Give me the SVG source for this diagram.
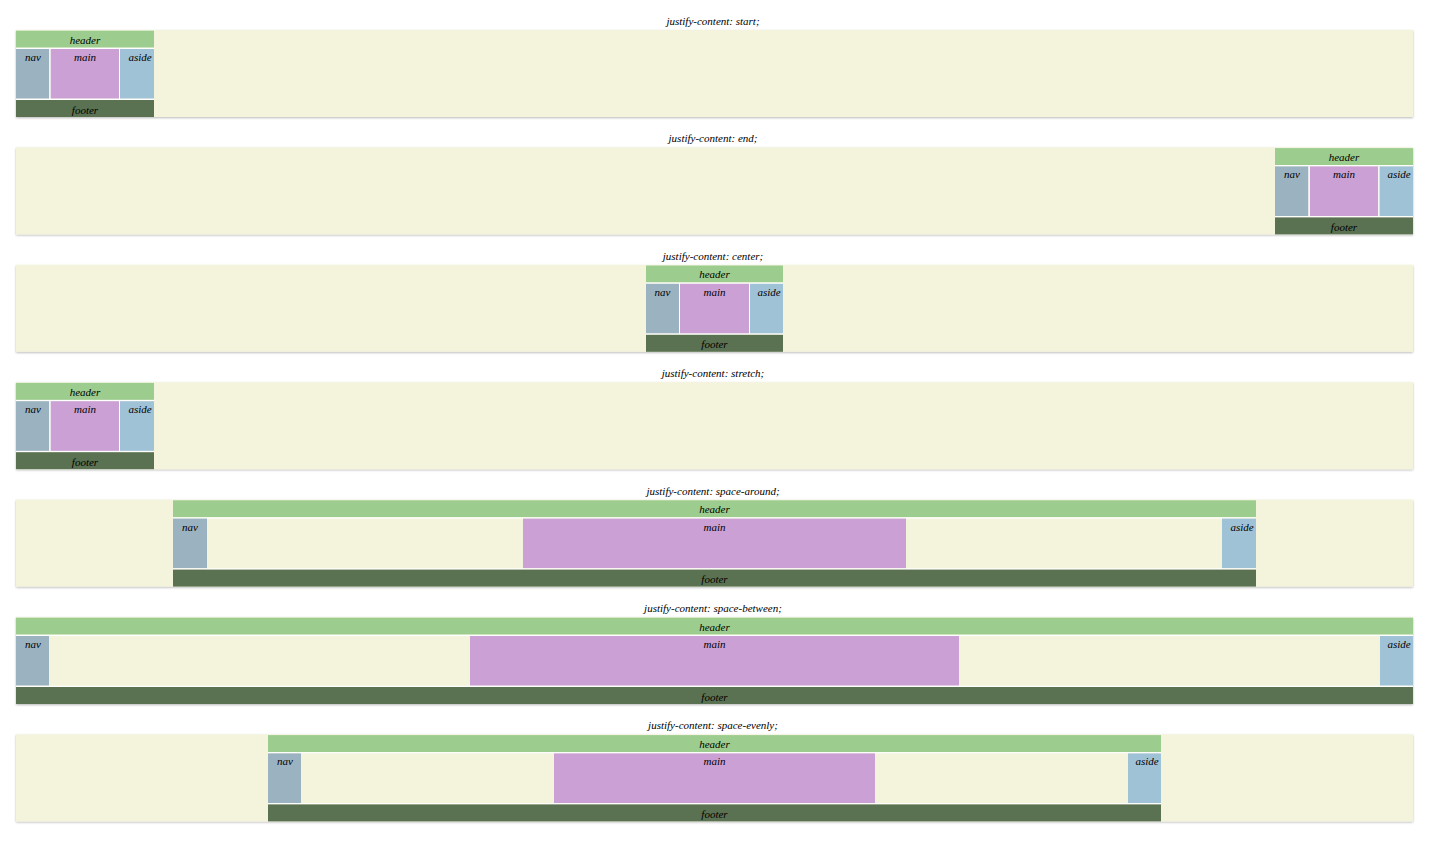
<svg xmlns="http://www.w3.org/2000/svg" width="1431" height="844" viewBox="0 0 1431 844">
<style>
text{font-family:"Liberation Serif","DejaVu Serif",serif;font-style:italic;font-size:11px;fill:#000;text-anchor:middle}
.t{font-size:11px}
.box{fill:#f4f4dc}
.hd{fill:#9ccc8e}
.nv{fill:#9bb2c0}
.mn{fill:#cba0d4}
.as{fill:#a0c2d6}
.ft{fill:#5a7252}
.gap{fill:#ffffff}
</style>
<defs>
<filter id="sh" x="-2%" y="-10%" width="104%" height="125%">
<feDropShadow dx="0" dy="1" stdDeviation="1.2" flood-color="#000" flood-opacity="0.28"/>
</filter>
</defs>
<rect width="1431" height="844" fill="#fff"/>

<!-- 1 start -->
<g id="sec-start">
<text class="t" x="713" y="25">justify-content: start;</text>
<rect class="box" x="16" y="30" width="1397" height="87" filter="url(#sh)"/>
<g id="start-header"><rect class="hd" x="16" y="30.7" width="138" height="17"/><text x="85" y="43.5">header</text></g>
<rect class="gap" x="16" y="47.7" width="138" height="1.3"/>
<g id="start-nav"><rect class="nv" x="16" y="49" width="33.3" height="49.7"/><text x="33" y="61">nav</text></g>
<rect class="gap" x="49.3" y="49" width="1.4" height="49.7"/>
<g id="start-main"><rect class="mn" x="50.7" y="49" width="68.3" height="49.7"/><text x="85" y="61">main</text></g>
<rect class="gap" x="119" y="49" width="1" height="49.7"/>
<g id="start-aside"><rect class="as" x="120" y="49" width="34" height="49.7"/><text x="140" y="61">aside</text></g>
<rect class="gap" x="16" y="98.7" width="138" height="1.3"/>
<g id="start-footer"><rect class="ft" x="16" y="100" width="138" height="17"/><text x="85" y="113.5">footer</text></g>
</g>

<!-- 2 end -->
<g id="sec-end" transform="translate(0,117.4)">
<text class="t" x="713" y="25">justify-content: end;</text>
<rect class="box" x="16" y="30" width="1397" height="87" filter="url(#sh)"/>
<g id="end-header"><rect class="hd" x="1275" y="30.7" width="138" height="17"/><text x="1344" y="43.5">header</text></g>
<rect class="gap" x="1275" y="47.7" width="138" height="1.3"/>
<g id="end-nav"><rect class="nv" x="1275" y="49" width="33.5" height="49.7"/><text x="1292" y="61">nav</text></g>
<rect class="gap" x="1308.5" y="49" width="1.4" height="49.7"/>
<g id="end-main"><rect class="mn" x="1309.9" y="49" width="68.4" height="49.7"/><text x="1344" y="61">main</text></g>
<rect class="gap" x="1378.3" y="49" width="1.3" height="49.7"/>
<g id="end-aside"><rect class="as" x="1379.6" y="49" width="33.4" height="49.7"/><text x="1399" y="61">aside</text></g>
<rect class="gap" x="1275" y="98.7" width="138" height="1.3"/>
<g id="end-footer"><rect class="ft" x="1275" y="100" width="138" height="17"/><text x="1344" y="113.5">footer</text></g>
</g>

<!-- 3 center -->
<g id="sec-center" transform="translate(0,234.8)">
<text class="t" x="713" y="25">justify-content: center;</text>
<rect class="box" x="16" y="30" width="1397" height="87" filter="url(#sh)"/>
<g id="center-header"><rect class="hd" x="646" y="30.7" width="137" height="17"/><text x="714.5" y="43.5">header</text></g>
<rect class="gap" x="646" y="47.7" width="137" height="1.3"/>
<g id="center-nav"><rect class="nv" x="646" y="49" width="33" height="49.7"/><text x="662.5" y="61">nav</text></g>
<rect class="gap" x="679" y="49" width="1" height="49.7"/>
<g id="center-main"><rect class="mn" x="680" y="49" width="69" height="49.7"/><text x="714.5" y="61">main</text></g>
<rect class="gap" x="749" y="49" width="1" height="49.7"/>
<g id="center-aside"><rect class="as" x="750" y="49" width="33" height="49.7"/><text x="769" y="61">aside</text></g>
<rect class="gap" x="646" y="98.7" width="137" height="1.3"/>
<g id="center-footer"><rect class="ft" x="646" y="100" width="137" height="17"/><text x="714.5" y="113.5">footer</text></g>
</g>

<!-- 4 stretch -->
<g id="sec-stretch" transform="translate(0,352.2)">
<text class="t" x="713" y="25">justify-content: stretch;</text>
<rect class="box" x="16" y="30" width="1397" height="87" filter="url(#sh)"/>
<g id="stretch-header"><rect class="hd" x="16" y="30.7" width="138" height="17"/><text x="85" y="43.5">header</text></g>
<rect class="gap" x="16" y="47.7" width="138" height="1.3"/>
<g id="stretch-nav"><rect class="nv" x="16" y="49" width="33.3" height="49.7"/><text x="33" y="61">nav</text></g>
<rect class="gap" x="49.3" y="49" width="1.4" height="49.7"/>
<g id="stretch-main"><rect class="mn" x="50.7" y="49" width="68.3" height="49.7"/><text x="85" y="61">main</text></g>
<rect class="gap" x="119" y="49" width="1" height="49.7"/>
<g id="stretch-aside"><rect class="as" x="120" y="49" width="34" height="49.7"/><text x="140" y="61">aside</text></g>
<rect class="gap" x="16" y="98.7" width="138" height="1.3"/>
<g id="stretch-footer"><rect class="ft" x="16" y="100" width="138" height="17"/><text x="85" y="113.5">footer</text></g>
</g>

<!-- 5 space-around -->
<g id="sec-around" transform="translate(0,469.6)">
<text class="t" x="713" y="25">justify-content: space-around;</text>
<rect class="box" x="16" y="30" width="1397" height="87" filter="url(#sh)"/>
<g id="around-header"><rect class="hd" x="173" y="30.7" width="1083" height="17"/><text x="714.5" y="43.5">header</text></g>
<rect class="gap" x="173" y="47.7" width="1083" height="1.3"/>
<g id="around-nav"><rect class="nv" x="173" y="49" width="34" height="49.7"/><text x="190" y="61">nav</text></g>
<g id="around-main"><rect class="mn" x="523" y="49" width="383" height="49.7"/><text x="714.5" y="61">main</text></g>
<g id="around-aside"><rect class="as" x="1222" y="49" width="34" height="49.7"/><text x="1242" y="61">aside</text></g>
<rect class="gap" x="173" y="98.7" width="1083" height="1.3"/>
<g id="around-footer"><rect class="ft" x="173" y="100" width="1083" height="17"/><text x="714.5" y="113.5">footer</text></g>
</g>

<!-- 6 space-between -->
<g id="sec-between" transform="translate(0,587)">
<text class="t" x="713" y="25">justify-content: space-between;</text>
<rect class="box" x="16" y="30" width="1397" height="87" filter="url(#sh)"/>
<g id="between-header"><rect class="hd" x="16" y="30.7" width="1397" height="17"/><text x="714.5" y="43.5">header</text></g>
<rect class="gap" x="16" y="47.7" width="1397" height="1.3"/>
<g id="between-nav"><rect class="nv" x="16" y="49" width="33" height="49.7"/><text x="33" y="61">nav</text></g>
<g id="between-main"><rect class="mn" x="470" y="49" width="489" height="49.7"/><text x="714.5" y="61">main</text></g>
<g id="between-aside"><rect class="as" x="1380" y="49" width="33" height="49.7"/><text x="1399" y="61">aside</text></g>
<rect class="gap" x="16" y="98.7" width="1397" height="1.3"/>
<g id="between-footer"><rect class="ft" x="16" y="100" width="1397" height="17"/><text x="714.5" y="113.5">footer</text></g>
</g>

<!-- 7 space-evenly -->
<g id="sec-evenly" transform="translate(0,704.4)">
<text class="t" x="713" y="25">justify-content: space-evenly;</text>
<rect class="box" x="16" y="30" width="1397" height="87" filter="url(#sh)"/>
<g id="evenly-header"><rect class="hd" x="268" y="30.7" width="893" height="17"/><text x="714.5" y="43.5">header</text></g>
<rect class="gap" x="268" y="47.7" width="893" height="1.3"/>
<g id="evenly-nav"><rect class="nv" x="268" y="49" width="33" height="49.7"/><text x="285" y="61">nav</text></g>
<g id="evenly-main"><rect class="mn" x="554" y="49" width="321" height="49.7"/><text x="714.5" y="61">main</text></g>
<g id="evenly-aside"><rect class="as" x="1128" y="49" width="33" height="49.7"/><text x="1147" y="61">aside</text></g>
<rect class="gap" x="268" y="98.7" width="893" height="1.3"/>
<g id="evenly-footer"><rect class="ft" x="268" y="100" width="893" height="17"/><text x="714.5" y="113.5">footer</text></g>
</g>
</svg>
